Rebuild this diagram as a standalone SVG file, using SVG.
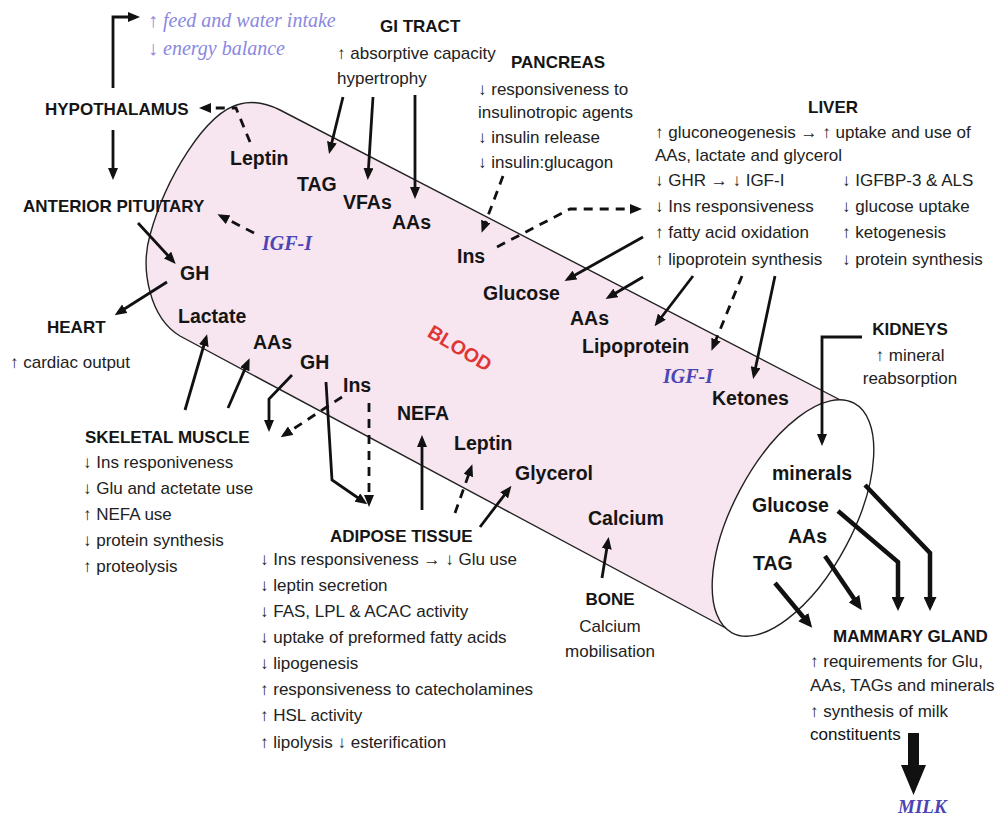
<svg xmlns="http://www.w3.org/2000/svg" width="1001" height="815" viewBox="0 0 1001 815">
  <defs>
    <style>
      .lb { font: bold 17px 'Liberation Sans', Arial, sans-serif; fill: #151515; }
      .bl { font: bold 19.5px 'Liberation Sans', Arial, sans-serif; fill: #151515; }
      .tx { font: 17px 'Liberation Sans', Arial, sans-serif; fill: #222; }
      .ig { font: italic bold 20px 'Liberation Serif', 'Times New Roman', serif; fill: #4b45b5; }
      .fd { font: italic 20px 'Liberation Serif', 'Times New Roman', serif; fill: #8a88e0; }
      .ln { fill: none; stroke: #111; stroke-width: 2.8; marker-end: url(#ah); }
      .ds { fill: none; stroke: #111; stroke-width: 2.8; stroke-dasharray: 9 7; marker-end: url(#ah); }
      .tk { fill: none; stroke: #111; stroke-width: 4.5; marker-end: url(#ahb); }
    </style>
    <marker id="ah" viewBox="0 0 12 10" refX="8" refY="5" markerWidth="12" markerHeight="10" markerUnits="userSpaceOnUse" orient="auto">
      <path d="M0,0 L12,5 L0,10 z" fill="#111"/>
    </marker>
    <marker id="ahb" viewBox="0 0 14 13" refX="9" refY="6.5" markerWidth="14" markerHeight="13" markerUnits="userSpaceOnUse" orient="auto">
      <path d="M0,0 L14,6.5 L0,13 z" fill="#111"/>
    </marker>
  </defs>

  <rect width="1001" height="815" fill="#ffffff"/>

  <!-- blood vessel drawn as a cylinder -->
  <g id="blood-vessel">
    <path d="M180,336 C150,318 140,270 150,235 C165,180 205,112 240,104 C255,100 268,104 280,110 L850,405 L735,633 Z" fill="#f7e5ef"/>
    <path d="M735,633 L180,336 C150,318 140,270 150,235 C165,180 205,112 240,104 C255,100 268,104 280,110 L850,405" fill="none" stroke="#222" stroke-width="1.4"/>
    <ellipse cx="793" cy="518" rx="130" ry="60" transform="rotate(-62 793 518)" fill="#ffffff" stroke="#222" stroke-width="1.4"/>
    <text class="bl" x="460" y="355" text-anchor="middle" style="fill:#e03535" transform="rotate(31 460 348)">BLOOD</text>
  </g>

  <!-- connectors -->
  <g id="connectors">
    <path class="ln" d="M113,88 V17 H136"/>
    <path class="ln" d="M113,130 V176"/>
    <path class="ds" d="M250,142 L236,108 L203,108"/>
    <path class="ds" d="M254,233 L221,216"/>
    <path class="ln" d="M138,223 L173,261"/>
    <path class="ln" d="M167,282 L118,313"/>
    <path class="ln" d="M343,97 L330,150"/>
    <path class="ln" d="M373,97 L368,176"/>
    <path class="ln" d="M415,95 L415,195"/>
    <path class="ds" d="M503,176 L483,229"/>
    <path class="ds" d="M497,247 L570,209 L638,209"/>
    <path class="ln" d="M643,237 L568,279"/>
    <path class="ln" d="M643,277 L609,297"/>
    <path class="ln" d="M693,276 L657,323"/>
    <path class="ds" d="M742,276 L713,347"/>
    <path class="ln" d="M775,276 L754,375"/>
    <path class="ln" d="M862,337 H822 V442"/>
    <path class="ln" d="M185,410 L206,338"/>
    <path class="ln" d="M228,408 L248,362"/>
    <path class="ln" d="M292,375 L269,399 V428"/>
    <path class="ds" d="M342,397 L284,435"/>
    <path class="ln" d="M326,382 L332,480 L364,502"/>
    <path class="ds" d="M369,403 V503"/>
    <path class="ln" d="M422,510 V439"/>
    <path class="ds" d="M455,513 L471,468"/>
    <path class="ln" d="M480,527 L509,489"/>
    <path class="ln" d="M602,578 L608,541"/>
    <path class="tk" d="M865,485 L930,553 V606"/>
    <path class="tk" d="M838,511 L898,562 V606"/>
    <path class="tk" d="M825,556 L859,606"/>
    <path class="tk" d="M775,583 L809,624"/>
    <path d="M908,733 H919 V765 H926 L913.5,795 L901,765 H908 Z" fill="#111"/>
  </g>

  <g id="hypothalamus">
    <text class="lb" x="45" y="115">HYPOTHALAMUS</text>
    <text class="fd" x="148" y="27">↑ feed and water intake</text>
    <text class="fd" x="148" y="55">↓ energy balance</text>
  </g>

  <g id="anterior-pituitary">
    <text class="lb" x="23" y="212">ANTERIOR PITUITARY</text>
  </g>

  <g id="heart">
    <text class="lb" x="47" y="333">HEART</text>
    <text class="tx" x="10" y="368">↑ cardiac output</text>
  </g>

  <g id="gi-tract">
    <text class="lb" x="380" y="32">GI TRACT</text>
    <text class="tx" x="337" y="59">↑ absorptive capacity</text>
    <text class="tx" x="337" y="84">hypertrophy</text>
  </g>

  <g id="pancreas">
    <text class="lb" x="511" y="68">PANCREAS</text>
    <text class="tx" x="478" y="95">↓ responsiveness to</text>
    <text class="tx" x="478" y="118">insulinotropic agents</text>
    <text class="tx" x="478" y="143">↓ insulin release</text>
    <text class="tx" x="478" y="168">↓ insulin:glucagon</text>
  </g>

  <g id="liver">
    <text class="lb" x="808" y="113">LIVER</text>
    <text class="tx" x="655" y="138">↑ gluconeogenesis  → ↑ uptake and use of</text>
    <text class="tx" x="655" y="161">AAs, lactate and glycerol</text>
    <text class="tx" x="655" y="186">↓ GHR → ↓ IGF-I</text>
    <text class="tx" x="842" y="186">↓ IGFBP-3 &amp; ALS</text>
    <text class="tx" x="655" y="212">↓ Ins responsiveness</text>
    <text class="tx" x="842" y="212">↓ glucose uptake</text>
    <text class="tx" x="655" y="238">↑ fatty acid oxidation</text>
    <text class="tx" x="842" y="238">↑ ketogenesis</text>
    <text class="tx" x="655" y="265">↑ lipoprotein synthesis</text>
    <text class="tx" x="842" y="265">↓ protein synthesis</text>
  </g>

  <g id="kidneys">
    <text class="lb" x="910" y="335" text-anchor="middle">KIDNEYS</text>
    <text class="tx" x="910" y="361" text-anchor="middle">↑ mineral</text>
    <text class="tx" x="910" y="384" text-anchor="middle">reabsorption</text>
  </g>

  <g id="skeletal-muscle">
    <text class="lb" x="85" y="443">SKELETAL MUSCLE</text>
    <text class="tx" x="83" y="468">↓ Ins responiveness</text>
    <text class="tx" x="83" y="494">↓ Glu and actetate use</text>
    <text class="tx" x="83" y="520">↑ NEFA use</text>
    <text class="tx" x="83" y="546">↓ protein synthesis</text>
    <text class="tx" x="83" y="572">↑ proteolysis</text>
  </g>

  <g id="adipose-tissue">
    <text class="lb" x="330" y="542">ADIPOSE TISSUE</text>
    <text class="tx" x="260" y="565">↓ Ins responsiveness → ↓ Glu use</text>
    <text class="tx" x="260" y="591">↓ leptin secretion</text>
    <text class="tx" x="260" y="617">↓ FAS, LPL &amp; ACAC activity</text>
    <text class="tx" x="260" y="643">↓ uptake of preformed fatty acids</text>
    <text class="tx" x="260" y="669">↓ lipogenesis</text>
    <text class="tx" x="260" y="695">↑ responsiveness to catecholamines</text>
    <text class="tx" x="260" y="721">↑ HSL activity</text>
    <text class="tx" x="260" y="748">↑ lipolysis ↓ esterification</text>
  </g>

  <g id="bone">
    <text class="lb" x="610" y="605" text-anchor="middle">BONE</text>
    <text class="tx" x="610" y="632" text-anchor="middle">Calcium</text>
    <text class="tx" x="610" y="657" text-anchor="middle">mobilisation</text>
  </g>

  <g id="mammary-gland">
    <text class="lb" x="833" y="642">MAMMARY GLAND</text>
    <text class="tx" x="810" y="667">↑ requirements for Glu,</text>
    <text class="tx" x="810" y="691">AAs, TAGs and minerals</text>
    <text class="tx" x="810" y="717">↑ synthesis of milk</text>
    <text class="tx" x="810" y="740" style="fill:#111">constituents</text>
  </g>

  <g id="milk">
    <text class="ig" x="898" y="813" style="font-size:19px">MILK</text>
  </g>

  <!-- substances carried in the blood -->
  <g id="blood-contents">
    <text class="bl" x="230" y="165">Leptin</text>
    <text class="bl" x="297" y="191">TAG</text>
    <text class="bl" x="343" y="209">VFAs</text>
    <text class="bl" x="392" y="229">AAs</text>
    <text class="ig" x="262" y="250">IGF-I</text>
    <text class="bl" x="180" y="280">GH</text>
    <text class="bl" x="178" y="323">Lactate</text>
    <text class="bl" x="253" y="349">AAs</text>
    <text class="bl" x="300" y="369">GH</text>
    <text class="bl" x="343" y="392">Ins</text>
    <text class="bl" x="457" y="263">Ins</text>
    <text class="bl" x="483" y="300">Glucose</text>
    <text class="bl" x="570" y="325">AAs</text>
    <text class="bl" x="582" y="353">Lipoprotein</text>
    <text class="ig" x="663" y="383">IGF-I</text>
    <text class="bl" x="712" y="405">Ketones</text>
    <text class="bl" x="397" y="420">NEFA</text>
    <text class="bl" x="454" y="450">Leptin</text>
    <text class="bl" x="515" y="480">Glycerol</text>
    <text class="bl" x="588" y="525">Calcium</text>
    <text class="bl" x="772" y="480">minerals</text>
    <text class="bl" x="752" y="512">Glucose</text>
    <text class="bl" x="788" y="543">AAs</text>
    <text class="bl" x="753" y="570">TAG</text>
  </g>
</svg>
